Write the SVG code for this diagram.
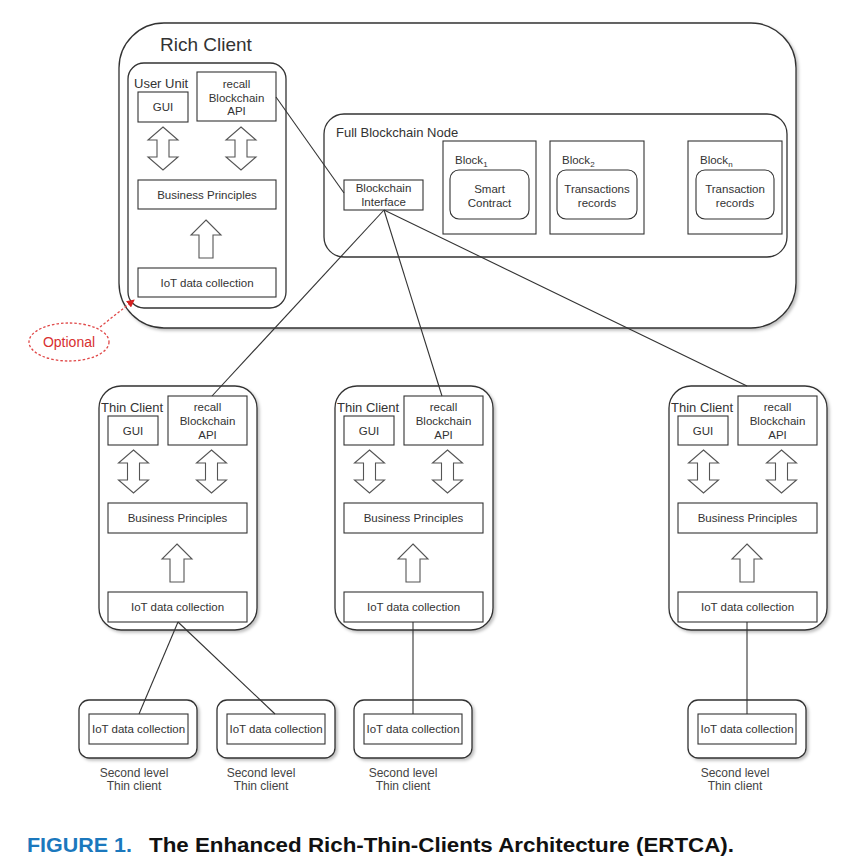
<svg xmlns="http://www.w3.org/2000/svg" xmlns:xlink="http://www.w3.org/1999/xlink" width="844" height="868" viewBox="0 0 844 868">
<style>
  text { font-family: "Liberation Sans", Arial, sans-serif; fill: #333; }
  .box { fill: #fff; stroke: #333; stroke-width: 1.1; }
  .rbox { fill: #fff; stroke: #333; stroke-width: 1.3; }
  .arrow { fill: #fff; stroke: #555; stroke-width: 1.1; stroke-linejoin: miter; }
  .t { font-size: 11.5px; text-anchor: middle; }
  .lbl { font-size: 13px; }
  .conn { stroke: #333; stroke-width: 1.1; fill: none; }
  .sub { font-size: 12px; text-anchor: middle; fill: #444; }
</style>
<defs>
  <filter id="sh" x="-10%" y="-10%" width="125%" height="125%">
    <feDropShadow dx="2" dy="2" stdDeviation="1.5" flood-color="#000" flood-opacity="0.25"/>
  </filter>
  <path id="dbl" d="M0,0 L15,13 L6,13 L6,30 L15,30 L0,43 L-15,30 L-6,30 L-6,13 L-15,13 Z"/>
  <path id="up" d="M0,0 L15,15 L7,15 L7,38 L-7,38 L-7,15 L-15,15 Z"/>
  <marker id="redArr" markerWidth="8" markerHeight="8" refX="7" refY="4" orient="auto" markerUnits="userSpaceOnUse">
    <path d="M0,0 L8,4 L0,8 Z" fill="#d42020"/>
  </marker>
</defs>
<rect width="844" height="868" fill="#fff"/>

<g id="rich-client">
  <rect x="119" y="23" width="677" height="305" rx="45" class="rbox" stroke-width="1.8" filter="url(#sh)"/>
  <text x="160" y="51" font-size="19px">Rich Client</text>
</g>

<g id="user-unit">
  <rect x="128" y="63" width="158" height="245" rx="16" class="rbox"/>
  <text x="134" y="88" class="lbl">User Unit</text>
  <rect x="138" y="92" width="50" height="30" class="box"/>
  <text x="163" y="111" class="t">GUI</text>
  <rect x="197" y="72" width="79" height="49" class="box"/>
  <text x="236.5" y="88" class="t">recall</text>
  <text x="236.5" y="101.5" class="t">Blockchain</text>
  <text x="236.5" y="115" class="t">API</text>
  <use xlink:href="#dbl" x="163" y="127" class="arrow"/>
  <use xlink:href="#dbl" x="241" y="127" class="arrow"/>
  <rect x="138" y="180" width="138" height="29" class="box"/>
  <text x="207" y="199" class="t">Business Principles</text>
  <use xlink:href="#up" x="206" y="220" class="arrow"/>
  <rect x="138" y="268" width="138" height="29" class="box"/>
  <text x="207" y="287" class="t">IoT data collection</text>
</g>

<g id="full-blockchain-node">
  <rect x="324" y="114" width="463" height="143" rx="20" class="rbox"/>
  <text x="336" y="137" class="lbl">Full Blockchain Node</text>
</g>

<g id="blockchain-interface">
  <rect x="344" y="180" width="79" height="30" class="box"/>
  <text x="383.5" y="192" class="t">Blockchain</text>
  <text x="383.5" y="206" class="t">Interface</text>
</g>

<g id="block1">
  <rect x="443" y="141" width="93" height="93" class="box"/>
  <text x="455" y="164" font-size="11.5px">Block<tspan font-size="8px" dy="3">1</tspan></text>
  <rect x="450" y="170" width="79" height="49" rx="9" class="box"/>
  <text x="489.5" y="193" class="t">Smart</text>
  <text x="489.5" y="206.5" class="t">Contract</text>
</g>

<g id="block2">
  <rect x="550" y="141" width="94" height="93" class="box"/>
  <text x="562" y="164" font-size="11.5px">Block<tspan font-size="8px" dy="3">2</tspan></text>
  <rect x="557" y="170" width="80" height="49" rx="9" class="box"/>
  <text x="597" y="193" class="t">Transactions</text>
  <text x="597" y="206.5" class="t">records</text>
</g>

<g id="blockn">
  <rect x="688" y="141" width="94" height="93" class="box"/>
  <text x="700" y="164" font-size="11.5px">Block<tspan font-size="8px" dy="3">n</tspan></text>
  <rect x="696" y="170" width="78" height="49" rx="9" class="box"/>
  <text x="735" y="193" class="t">Transaction</text>
  <text x="735" y="206.5" class="t">records</text>
</g>

<g id="optional">
  <ellipse cx="69" cy="342" rx="40" ry="19" fill="#fff" stroke="#e04848" stroke-width="1.3" stroke-dasharray="2.5 2"/>
  <text x="69" y="347" font-size="14px" text-anchor="middle" style="fill:#d83030">Optional</text>
</g>

<g id="thin-client-1">
  <rect x="99" y="386" width="158" height="244" rx="22" class="rbox" filter="url(#sh)"/>
  <text x="101" y="412" class="lbl">Thin Client</text>
  <rect x="108" y="416" width="50" height="29" class="box"/>
  <text x="133" y="434.5" class="t">GUI</text>
  <rect x="168" y="396" width="79" height="49" class="box"/>
  <text x="207.5" y="411" class="t">recall</text>
  <text x="207.5" y="425" class="t">Blockchain</text>
  <text x="207.5" y="439" class="t">API</text>
  <use xlink:href="#dbl" x="133.5" y="450" class="arrow"/>
  <use xlink:href="#dbl" x="211.5" y="450" class="arrow"/>
  <rect x="108" y="503" width="139" height="30" class="box"/>
  <text x="177.5" y="522" class="t">Business Principles</text>
  <use xlink:href="#up" x="177" y="544" class="arrow"/>
  <rect x="108" y="592" width="139" height="30" class="box"/>
  <text x="177.5" y="611" class="t">IoT data collection</text>
</g>

<g id="thin-client-2">
  <rect x="335" y="386" width="158" height="244" rx="22" class="rbox" filter="url(#sh)"/>
  <text x="337" y="412" class="lbl">Thin Client</text>
  <rect x="344" y="416" width="50" height="29" class="box"/>
  <text x="369" y="434.5" class="t">GUI</text>
  <rect x="404" y="396" width="79" height="49" class="box"/>
  <text x="443.5" y="411" class="t">recall</text>
  <text x="443.5" y="425" class="t">Blockchain</text>
  <text x="443.5" y="439" class="t">API</text>
  <use xlink:href="#dbl" x="369.5" y="450" class="arrow"/>
  <use xlink:href="#dbl" x="447.5" y="450" class="arrow"/>
  <rect x="344" y="503" width="139" height="30" class="box"/>
  <text x="413.5" y="522" class="t">Business Principles</text>
  <use xlink:href="#up" x="413" y="544" class="arrow"/>
  <rect x="344" y="592" width="139" height="30" class="box"/>
  <text x="413.5" y="611" class="t">IoT data collection</text>
</g>

<g id="thin-client-3">
  <rect x="669" y="386" width="158" height="244" rx="22" class="rbox" filter="url(#sh)"/>
  <text x="671" y="412" class="lbl">Thin Client</text>
  <rect x="678" y="416" width="50" height="29" class="box"/>
  <text x="703" y="434.5" class="t">GUI</text>
  <rect x="738" y="396" width="79" height="49" class="box"/>
  <text x="777.5" y="411" class="t">recall</text>
  <text x="777.5" y="425" class="t">Blockchain</text>
  <text x="777.5" y="439" class="t">API</text>
  <use xlink:href="#dbl" x="703.5" y="450" class="arrow"/>
  <use xlink:href="#dbl" x="781.5" y="450" class="arrow"/>
  <rect x="678" y="503" width="139" height="30" class="box"/>
  <text x="747.5" y="522" class="t">Business Principles</text>
  <use xlink:href="#up" x="747" y="544" class="arrow"/>
  <rect x="678" y="592" width="139" height="30" class="box"/>
  <text x="747.5" y="611" class="t">IoT data collection</text>
</g>

<g id="second-level-1">
  <rect x="79" y="700" width="118" height="58" rx="10" class="rbox" filter="url(#sh)"/>
  <rect x="89" y="714" width="99" height="30" class="box"/>
  <text x="138.5" y="733" class="t">IoT data collection</text>
  <text x="134" y="777" class="sub">Second level</text>
  <text x="134" y="790" class="sub">Thin client</text>
</g>

<g id="second-level-2">
  <rect x="217" y="700" width="118" height="58" rx="10" class="rbox" filter="url(#sh)"/>
  <rect x="227" y="714" width="98" height="30" class="box"/>
  <text x="276" y="733" class="t">IoT data collection</text>
  <text x="261" y="777" class="sub">Second level</text>
  <text x="261" y="790" class="sub">Thin client</text>
</g>

<g id="second-level-3">
  <rect x="354" y="700" width="118" height="58" rx="10" class="rbox" filter="url(#sh)"/>
  <rect x="364" y="714" width="98" height="30" class="box"/>
  <text x="413" y="733" class="t">IoT data collection</text>
  <text x="403" y="777" class="sub">Second level</text>
  <text x="403" y="790" class="sub">Thin client</text>
</g>

<g id="second-level-4">
  <rect x="688" y="700" width="118" height="58" rx="10" class="rbox" filter="url(#sh)"/>
  <rect x="698" y="714" width="98" height="30" class="box"/>
  <text x="747" y="733" class="t">IoT data collection</text>
  <text x="735" y="777" class="sub">Second level</text>
  <text x="735" y="790" class="sub">Thin client</text>
</g>

<g id="connectors">
  <line x1="276" y1="97" x2="344" y2="193" class="conn"/>
  <line x1="384" y1="210" x2="212" y2="396" class="conn"/>
  <line x1="384" y1="210" x2="442" y2="396" class="conn"/>
  <line x1="384" y1="210" x2="747" y2="386" class="conn"/>
  <line x1="178" y1="622" x2="139" y2="714" class="conn"/>
  <line x1="178" y1="622" x2="275" y2="714" class="conn"/>
  <line x1="413" y1="622" x2="413" y2="714" class="conn"/>
  <line x1="747" y1="622" x2="747" y2="714" class="conn"/>
  <line x1="100" y1="327" x2="134" y2="300" stroke="#e04848" stroke-width="1.3" stroke-dasharray="2.5 2" marker-end="url(#redArr)"/>
</g>

<g id="caption">
  <text x="27" y="852" font-size="20px" font-weight="bold" style="fill:#1b78bd" textLength="105" lengthAdjust="spacingAndGlyphs">FIGURE 1.</text>
  <text x="149" y="852" font-size="20px" font-weight="bold" style="fill:#111" textLength="585" lengthAdjust="spacingAndGlyphs">The Enhanced Rich-Thin-Clients Architecture (ERTCA).</text>
</g>
</svg>
